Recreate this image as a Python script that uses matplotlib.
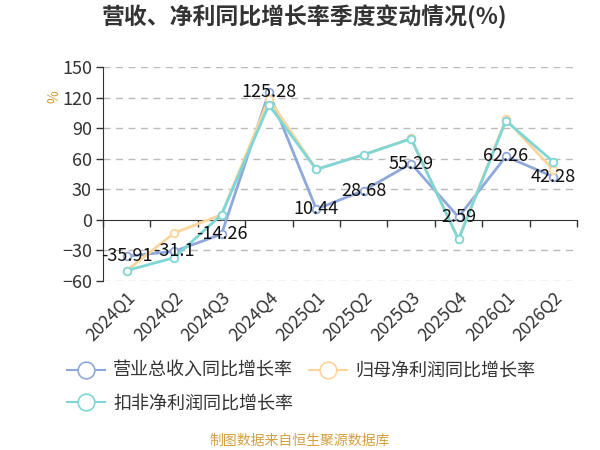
import matplotlib
matplotlib.use("Agg")
import matplotlib.pyplot as plt
from matplotlib.lines import Line2D

plt.rcParams['font.family'] = ['Noto Sans CJK SC', 'DejaVu Sans']

categories = ["2024Q1", "2024Q2", "2024Q3", "2024Q4", "2025Q1",
              "2025Q2", "2025Q3", "2025Q4", "2026Q1", "2026Q2"]
revenue = [-35.91, -31.1, -14.26, 125.28, 10.44, 28.68, 55.29, 2.59, 62.26, 42.28]
parent_profit = [-50.0, -13.2, 5.0, 119.0, 49.5, 64.0, 80.0, -19.0, 99.0, 49.0]
deducted_profit = [-50.0, -37.4, 4.9, 113.0, 49.5, 64.0, 79.7, -19.4, 97.4, 57.0]
series_names = ["营业总收入同比增长率", "归母净利润同比增长率", "扣非净利润同比增长率"]
colors = ["#8fa8dc", "#fdd59a", "#7ed6d6"]
yticks = [-60, -30, 0, 30, 60, 90, 120, 150]

fig = plt.figure(figsize=(6, 4.5), dpi=100)
ax = fig.add_axes([103/600, 1-280.7/450, 474/600, (280.7-67.3)/450])

x = list(range(len(categories)))
handles = []
for vals, c, name, z in zip([revenue, parent_profit, deducted_profit], colors, series_names, [3, 4, 5]):
    ax.plot(x, vals, color=c, lw=2, marker='o', ms=5.5, mfc='white', mec=c, mew=1.3, zorder=z)
    handles.append(Line2D([], [], color=c, lw=1.5, marker='o', ms=12, mfc='white', mec=c, mew=1.2))

for i, v in enumerate(revenue):
    ax.text(i, v, f"{v:g}", ha='center', va='center', fontsize=13, color='#111', zorder=10)

ax.set_xlim(-0.5, len(categories)-0.5)
ax.set_ylim(-60, 150)
ax.set_yticks(yticks)
ax.tick_params(axis='y', labelsize=13, colors='#333', length=5, width=1, pad=3)
for yt in yticks:
    if yt != 0:
        ax.axhline(yt, color='#bbbbbb', lw=1, ls=(0, (5, 4)), zorder=1)

for s in ['top', 'right']:
    ax.spines[s].set_visible(False)
ax.spines['left'].set_color('#333')
ax.spines['bottom'].set_position(('data', 0))
ax.spines['bottom'].set_color('#333')
ax.set_xticks([i - 0.5 for i in range(len(categories)+1)])
ax.set_xticklabels([])
ax.tick_params(axis='x', length=5, width=1, colors='#333')

sec = ax.secondary_xaxis(0)
sec.set_xticks(x)
sec.set_xticklabels(categories, rotation=45, ha='right', va='top', rotation_mode='anchor', fontsize=12.5, color='#333')
sec.tick_params(length=0, pad=6)
sec.spines['bottom'].set_visible(False)

fig.text(102/600, 1-17/450, "营收、净利同比增长率季度变动情况(%)", fontsize=16.5, fontweight='bold', color='#333', va='center', ha='left')
fig.text(55/600, 1-97/450, "%", rotation=90, fontsize=10, color='#d49a3a', va='center', ha='center')

order = [0, 2, 1]
fig.legend([handles[i] for i in order], [series_names[i] for i in order], ncol=2, loc='upper left',
           bbox_to_anchor=(67/600, 1-362/450), frameon=False, fontsize=13, handlelength=2.1,
           columnspacing=0.9, labelspacing=0.8, handletextpad=0.45, borderpad=0, borderaxespad=0,
           labelcolor='#333')

fig.text(300/600, 1-441/450, "制图数据来自恒生聚源数据库", fontsize=10, color='#d4a040', ha='center', va='center')

fig.savefig("out.png", dpi=100)
